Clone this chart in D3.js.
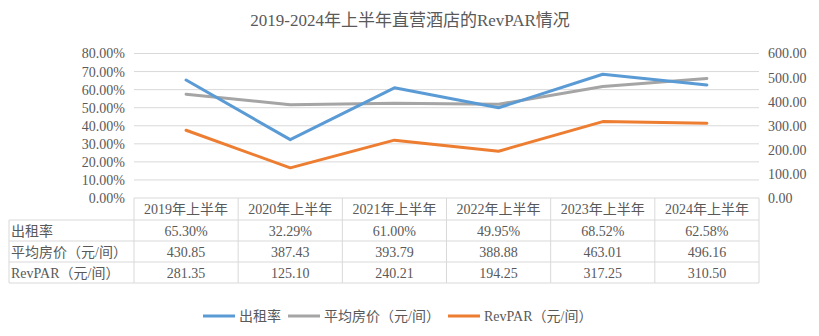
<!DOCTYPE html>
<html><head><meta charset="utf-8">
<script src="https://cdn.jsdelivr.net/npm/d3@7"></script>
<style>
html,body{margin:0;padding:0;background:#fff;}
svg{display:block;}
text{font-family:"Liberation Serif","Noto Sans CJK SC",serif;fill:#595959;}
</style></head><body>
<script>
const categories = ["2019年上半年","2020年上半年","2021年上半年","2022年上半年","2023年上半年","2024年上半年"];
const occupancy = [65.30, 32.29, 61.00, 49.95, 68.52, 62.58];
const adr = [430.85, 387.43, 393.79, 388.88, 463.01, 496.16];
const revpar = [281.35, 125.10, 240.21, 194.25, 317.25, 310.50];
const seriesNames = ["出租率", "平均房价（元/间）", "RevPAR（元/间）"];
const seriesColors = ["#5B9BD5", "#A5A5A5", "#ED7D31"];
const leftTicks = [0,10,20,30,40,50,60,70,80];
const rightTicks = [0,100,200,300,400,500,600];
const title = "2019-2024年上半年直营酒店的RevPAR情况";

const W = 819, H = 336;
const svg = d3.select("body").append("svg").attr("width", W).attr("height", H);

const x = d3.scaleBand().domain(categories).range([134, 759]);
const yL = d3.scaleLinear().domain([0, 80]).range([198, 53.5]);
const yR = d3.scaleLinear().domain([0, 600]).range([198, 53.5]);

svg.append("text").attr("x", 410).attr("y", 26).attr("text-anchor", "middle")
  .style("font-size", "17px").text(title);

// gridlines
svg.append("g").selectAll("line").data(leftTicks.filter(d => d > 0)).join("line")
  .attr("x1", 134).attr("x2", 759)
  .attr("y1", d => yL(d)).attr("y2", d => yL(d))
  .attr("stroke", "#d9d9d9").attr("stroke-width", 1);

// left axis
const gl = svg.append("g").attr("transform", "translate(125,0)")
  .call(d3.axisLeft(yL).tickValues(leftTicks).tickSize(0).tickPadding(0).tickFormat(d => d.toFixed(2) + "%"));
gl.select(".domain").remove();
gl.selectAll("text").style("font-size", "14px").style("font-family", "Liberation Serif").attr("fill", "#595959");

// right axis
const gr = svg.append("g").attr("transform", "translate(768,0)")
  .call(d3.axisRight(yR).tickValues(rightTicks).tickSize(0).tickPadding(0).tickFormat(d => d.toFixed(2)));
gr.select(".domain").remove();
gr.selectAll("text").style("font-size", "14px").style("font-family", "Liberation Serif").attr("fill", "#595959");

// lines
const cx = d => x(d) + x.bandwidth() / 2;
const series = [
  {vals: occupancy, y: yL},
  {vals: adr, y: yR},
  {vals: revpar, y: yR}
];
const drawOrder = [1, 2, 0];
drawOrder.forEach(i => {
  const s = series[i];
  const line = d3.line().x((d, j) => cx(categories[j])).y(d => s.y(d));
  svg.append("path").datum(s.vals).attr("d", line)
    .attr("fill", "none").attr("stroke", seriesColors[i]).attr("stroke-width", 3)
    .attr("stroke-linejoin", "round").attr("stroke-linecap", "round");
});

// table
const rowY = [198, 220, 241, 262, 283];
const tableLeft = 9;
const tb = svg.append("g");
const gridColor = "#d9d9d9";
tb.append("line").attr("x1", x.range()[0]).attr("x2", 759).attr("y1", rowY[0]).attr("y2", rowY[0]).attr("stroke", gridColor);
rowY.slice(1).forEach(yv => {
  tb.append("line").attr("x1", tableLeft).attr("x2", 759).attr("y1", yv).attr("y2", yv).attr("stroke", gridColor);
});
tb.append("line").attr("x1", tableLeft).attr("x2", tableLeft).attr("y1", rowY[1]).attr("y2", rowY[4]).attr("stroke", gridColor);
categories.forEach(c => {
  tb.append("line").attr("x1", x(c)).attr("x2", x(c)).attr("y1", rowY[0]).attr("y2", rowY[4]).attr("stroke", gridColor);
});
tb.append("line").attr("x1", 759).attr("x2", 759).attr("y1", rowY[0]).attr("y2", rowY[4]).attr("stroke", gridColor);

tb.selectAll("text.hdr").data(categories).join("text").attr("class", "hdr")
  .attr("x", d => cx(d)).attr("y", (rowY[0] + rowY[1]) / 2 + 5)
  .attr("text-anchor", "middle").style("font-size", "14px").text(d => d);

const rows = [
  occupancy.map(v => v.toFixed(2) + "%"),
  adr.map(v => v.toFixed(2)),
  revpar.map(v => v.toFixed(2))
];
rows.forEach((r, i) => {
  const ym = (rowY[i + 1] + rowY[i + 2]) / 2 + 5;
  tb.append("text").attr("x", tableLeft + 2).attr("y", ym).style("font-size", "14px").text(seriesNames[i]);
  tb.selectAll("text.r" + i).data(r).join("text").attr("class", "r" + i)
    .attr("x", (d, j) => cx(categories[j])).attr("y", ym)
    .attr("text-anchor", "middle").style("font-size", "14px").text(d => d);
});

// legend
const legendX = [203, 288, 448];
seriesNames.forEach((n, i) => {
  const g = svg.append("g").attr("transform", `translate(${legendX[i]},316)`);
  g.append("line").attr("x1", 0).attr("x2", 32).attr("y1", 0).attr("y2", 0)
    .attr("stroke", seriesColors[i]).attr("stroke-width", 3);
  g.append("text").attr("x", 36).attr("y", 5).style("font-size", "14px").text(n);
});
</script>
</body></html>
